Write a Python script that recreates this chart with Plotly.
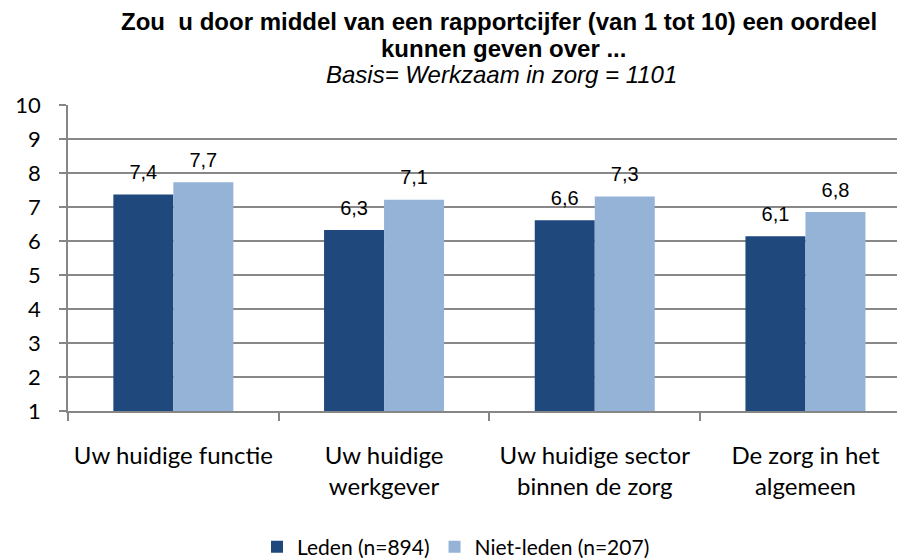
import plotly.graph_objects as go

categories = ["Uw huidige functie", "Uw huidige<br>werkgever", "Uw huidige sector<br>binnen de zorg", "De zorg in het<br>algemeen"]
series_names = ["Leden (n=894)", "Niet-leden (n=207)"]
leden = [7.37, 6.32, 6.61, 6.14]
niet_leden = [7.73, 7.21, 7.31, 6.85]
leden_labels = ["7,4", "6,3", "6,6", "6,1"]
niet_leden_labels = ["7,7", "7,1", "7,3", "6,8"]
y_ticks = [1, 2, 3, 4, 5, 6, 7, 8, 9, 10]
colors = ["#1F497D", "#95B3D7"]

title_line1 = "Zou  u door middel van een rapportcijfer (van 1 tot 10) een oordeel"
title_line2 = "kunnen geven over ..."
subtitle = "Basis= Werkzaam in zorg = 1101"

W, H = 897, 558
L, R, T, B = 68, 0, 105, 147
plot_w = W - L - R
plot_h = H - T - B
cat_w = 210.7
span = plot_w / cat_w
gap = 1 - 120 / cat_w

def xpaper(xpix):
    return (xpix - L) / plot_w

def ypaper(ypix):
    return (H - B - ypix) / plot_h

fig = go.Figure()
series = [(leden, leden_labels), (niet_leden, niet_leden_labels)]
for i, (vals, labels) in enumerate(series):
    fig.add_trace(go.Bar(
        name=series_names[i], x=categories, y=[v - 1 for v in vals], base=1,
        marker=dict(color=colors[i], line=dict(width=0)),
        offsetgroup=str(i), alignmentgroup="a", hoverinfo="skip",
    ))
for i, (vals, labels) in enumerate(series):
    fig.add_trace(go.Scatter(
        x=categories, y=vals, mode="markers+text", text=labels,
        textposition="top center", cliponaxis=False,
        marker=dict(size=15, opacity=0),
        textfont=dict(family="Liberation Sans, Arial", size=20, color="#000000"),
        offsetgroup=str(i), alignmentgroup="a", showlegend=False, hoverinfo="skip",
    ))

fig.update_layout(
    width=W, height=H,
    margin=dict(l=L, r=R, t=T, b=B, pad=0, autoexpand=False),
    paper_bgcolor="white", plot_bgcolor="white",
    barmode="group", bargap=gap, bargroupgap=0,
    scattermode="group", scattergap=gap,
    showlegend=True,
    legend=dict(orientation="h", x=xpaper(456), xanchor="center", y=ypaper(547), yanchor="middle",
                font=dict(family="Lato", size=21, color="#000000"),
                traceorder="normal", itemwidth=30),
    xaxis=dict(
        type="category", range=[-0.5, -0.5 + span], automargin=False,
        showgrid=False, showline=True, linecolor="#868686", linewidth=2,
        ticks="outside", tickson="boundaries", ticklen=8, tickcolor="#868686", tickwidth=1.5,
        tickfont=dict(family="Lato", size=24, color="#000000"),
        ticklabelstandoff=22,
    ),
    yaxis=dict(
        range=[1, 10], tickvals=y_ticks, ticktext=[str(v) for v in y_ticks], automargin=False,
        showgrid=True, gridcolor="#888888", gridwidth=1.5,
        showline=True, linecolor="#868686", linewidth=1.5,
        ticks="outside", ticklen=7, tickcolor="#868686", tickwidth=1.5,
        tickfont=dict(family="Lato", size=22, color="#000000"),
        ticklabelstandoff=14, zeroline=False,
    ),
)

fig.add_annotation(text="<b>" + title_line1 + "</b>", xref="paper", yref="paper",
                   x=xpaper(499), y=ypaper(21), yanchor="middle", xanchor="center",
                   showarrow=False, font=dict(family="Liberation Sans, Arial", size=24, color="#000000"))
fig.add_annotation(text="<b>" + title_line2 + "</b>", xref="paper", yref="paper",
                   x=xpaper(503), y=ypaper(48), yanchor="middle", xanchor="center",
                   showarrow=False, font=dict(family="Liberation Sans, Arial", size=24, color="#000000"))
fig.add_annotation(text="<i>" + subtitle + "</i>", xref="paper", yref="paper",
                   x=xpaper(501), y=ypaper(75), yanchor="middle", xanchor="center",
                   showarrow=False, font=dict(family="Liberation Sans, Arial", size=24, color="#000000"))

fig.write_html("out.html", config={"displayModeBar": False},
               post_script="document.body.style.margin='0';document.body.style.padding='0';")
